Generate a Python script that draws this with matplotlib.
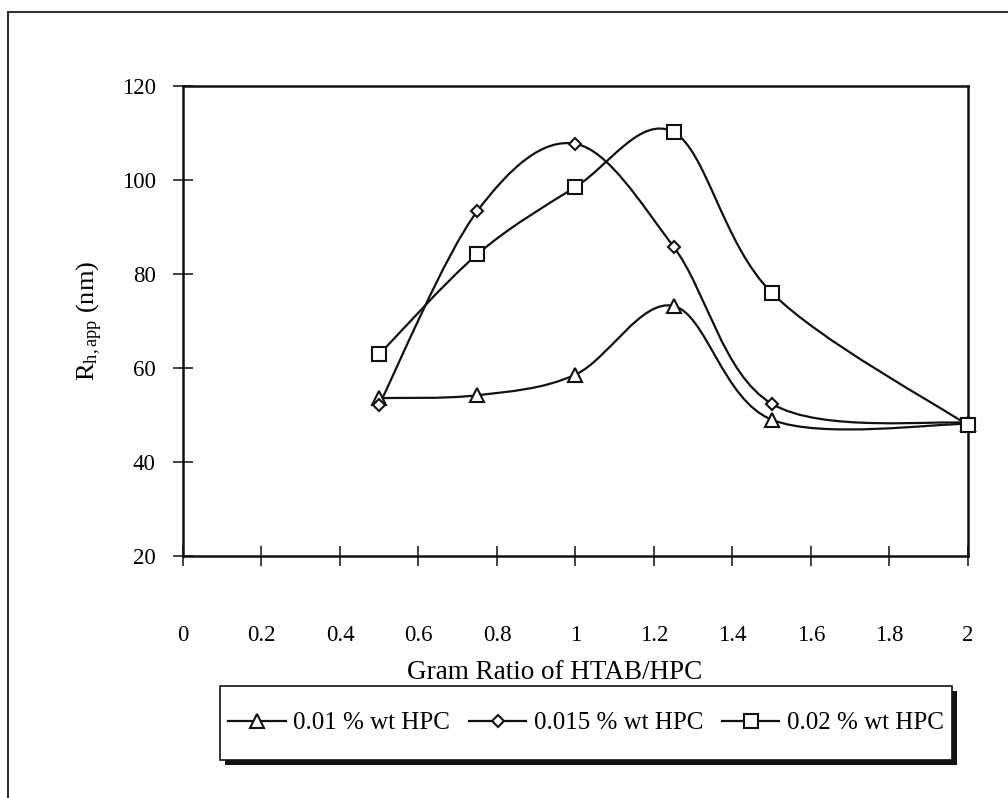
import numpy as np
import matplotlib
matplotlib.use("Agg")
import matplotlib.pyplot as plt
from matplotlib.path import Path
from matplotlib.patches import PathPatch, Rectangle
from matplotlib.lines import Line2D

plt.rcParams['font.family'] = ['Liberation Serif', 'DejaVu Serif']
plt.rcParams['mathtext.fontset'] = 'custom'
plt.rcParams['mathtext.rm'] = 'Liberation Serif'
plt.rcParams['mathtext.it'] = 'Liberation Serif:italic'

# data
ratio = [0.5, 0.75, 1.0, 1.25, 1.5, 2.0]
hpc_001 = [53.6, 54.2, 58.6, 73.2, 49.0, 48.1]
hpc_0015 = [52.2, 93.4, 107.7, 85.8, 52.4, 48.3]
hpc_002 = [62.9, 84.2, 98.5, 110.2, 76.0, 47.8]
labels = ['0.01 % wt HPC', '0.015 % wt HPC', '0.02 % wt HPC']
markers = ['^', 'D', 's']
msizes = [10, 6.5, 10]
xticks = [0, 0.2, 0.4, 0.6, 0.8, 1, 1.2, 1.4, 1.6, 1.8, 2]
xticklabels = ['0', '0.2', '0.4', '0.6', '0.8', '1', '1.2', '1.4', '1.6', '1.8', '2']
yticks = [20, 40, 60, 80, 100, 120]


def smooth_path(x, y):
    # excel-like smoothed line: bezier segments, tangent (P[i+1]-P[i-1])/6
    n = len(x)
    verts = [(x[0], y[0])]
    codes = [Path.MOVETO]
    for i in range(n - 1):
        a = i - 1 if i > 0 else i
        b = i + 2 if i + 2 < n else i + 1
        c1 = (x[i] + (x[i + 1] - x[a]) / 6, y[i] + (y[i + 1] - y[a]) / 6)
        c2 = (x[i + 1] - (x[b] - x[i]) / 6, y[i + 1] - (y[b] - y[i]) / 6)
        verts += [c1, c2, (x[i + 1], y[i + 1])]
        codes += [Path.CURVE4] * 3
    return Path(verts, codes)


fig = plt.figure(figsize=(10.08, 7.98), dpi=100)
ax = fig.add_axes([0.1815, 0.3033, 0.7788, 0.5889])

handles = []
for ys, mk, ms, lab in zip([hpc_001, hpc_0015, hpc_002], markers, msizes, labels):
    ax.add_patch(PathPatch(smooth_path(ratio, ys), fill=False, lw=1.6, ec='#111111', zorder=2))
    ax.plot(ratio, ys, ls='none', marker=mk, ms=ms, mfc='white', mec='#111111', mew=1.5,
            zorder=3, clip_on=False)
    handles.append(Line2D([], [], color='#111111', lw=1.6, marker=mk, ms=ms, mfc='white',
                          mec='#111111', mew=1.5, label=lab))

ax.set_xlim(0, 2)
ax.set_ylim(20, 120)
ax.set_xticks(xticks)
ax.set_xticklabels(xticklabels)
ax.set_yticks(yticks)
ax.tick_params(axis='both', direction='inout', length=15, width=1.2, labelsize=16.5, color='#222222')
ax.tick_params(axis='x', pad=42)
ax.tick_params(axis='y', pad=12)
for s in ax.spines.values():
    s.set_linewidth(1.8)
    s.set_color('#111111')

ax.set_xlabel('Gram Ratio of HTAB/HPC', fontsize=19.5)
ax.xaxis.set_label_coords(0.474, -0.222)
ax.set_ylabel(r'$\mathregular{R_{h,app}}$ (nm)', fontsize=19, labelpad=12)

# legend box with shadow, drawn at fixed place
bx0, by0, bx1, by1 = 220 / 1008, 1 - 760 / 798, 952 / 1008, 1 - 686 / 798
dx, dy = 5 / 1008, 5 / 798
fig.add_artist(Rectangle((bx0 + dx, by0 - dy), bx1 - bx0, by1 - by0, transform=fig.transFigure,
                         facecolor='#111111', edgecolor='none', zorder=4))
fig.add_artist(Rectangle((bx0, by0), bx1 - bx0, by1 - by0, transform=fig.transFigure,
                         facecolor='white', edgecolor='#111111', lw=1.2, zorder=5))
leg = fig.legend(handles=handles, loc='center', bbox_to_anchor=((bx0 + bx1) / 2, (by0 + by1) / 2),
                 ncol=3, fontsize=18, frameon=False,
                 handlelength=2.3, handletextpad=0.3, columnspacing=0.75)
leg.set_zorder(6)

# outer chart frame (cut off at right and bottom)
fig.add_artist(Rectangle((8 / 1008, -0.2), 1.2, 1.2 - 12 / 798, transform=fig.transFigure,
                         fill=False, edgecolor='#333333', lw=1.5))

fig.savefig('out.png', dpi=100)
